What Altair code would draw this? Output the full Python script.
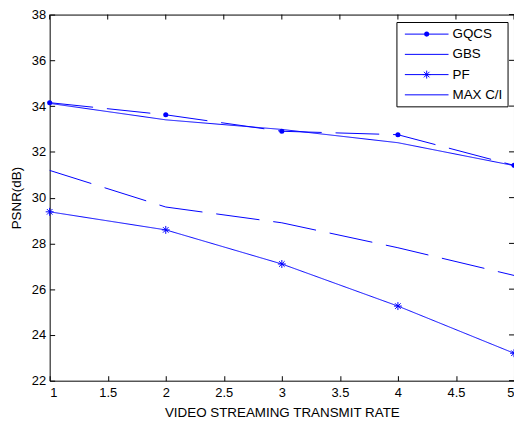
import altair as alt
import pandas as pd

rates = [1, 2, 3, 4, 5]
series = ["GQCS", "GBS", "PF", "MAX C/I"]
gqcs = [34.15, 33.62, 32.9, 32.75, 31.41]
gbs = [34.12, 33.4, 32.98, 32.4, 31.4]
pf = [29.38, 28.59, 27.1, 25.26, 23.2]
maxci = [31.19, 29.59, 28.9, 27.81, 26.6]

x_ticks = [1, 1.5, 2, 2.5, 3, 3.5, 4, 4.5, 5]
y_ticks = [22, 24, 26, 28, 30, 32, 34, 36, 38]

rows = []
for name, vals in zip(series, [gqcs, gbs, pf, maxci]):
    for r, v in zip(rates, vals):
        rows.append({"rate": r, "psnr": v, "series": name})
df = pd.DataFrame(rows)
legend_df = pd.DataFrame({"series": series, "row": list(range(len(series)))})
xt_df = pd.DataFrame({"rate": x_ticks})
yt_df = pd.DataFrame({"psnr": y_ticks})

BLUE = "#0000ff"
FONT = "Liberation Sans"
W, H = 468, 369

xs = alt.Scale(domain=[1, 5], nice=False, zero=False)
ys = alt.Scale(domain=[22, 38], nice=False, zero=False)

x_axis = alt.Axis(values=x_ticks, format="~g", domain=False, grid=False, offset=-5,
                  tickSize=5, tickColor="#000", tickOpacity=1, labelPadding=6, labelFontSize=13,
                  labelFont=FONT, labelColor="#000", title="VIDEO STREAMING TRANSMIT RATE",
                  titleFont=FONT, titleFontSize=13.5, titleFontWeight="normal",
                  titleColor="#000", titlePadding=6)
y_axis = alt.Axis(values=y_ticks, domain=False, grid=False, offset=-5,
                  tickSize=5, tickColor="#000", tickOpacity=1, labelPadding=4, labelFontSize=13,
                  labelFont=FONT, labelColor="#000", title="PSNR(dB)",
                  titleFont=FONT, titleFontSize=13.5, titleFontWeight="normal",
                  titleColor="#000", titlePadding=8)

X = alt.X("rate:Q", scale=xs, axis=x_axis)
Y = alt.Y("psnr:Q", scale=ys, axis=y_axis)

base = alt.Chart(df)

lines = base.mark_line(color=BLUE, strokeWidth=1).encode(
    x=X, y=Y,
    strokeDash=alt.StrokeDash("series:N",
                              scale=alt.Scale(domain=series,
                                              range=[[44, 14], [1, 0], [1, 0], [44, 14]]),
                              legend=None),
)

STAR = "M0,-1V1M-1,0H1M-0.7,-0.7L0.7,0.7M-0.7,0.7L0.7,-0.7"

dots = base.transform_filter(alt.datum.series == "GQCS").mark_point(
    shape="circle", filled=True, size=26, color=BLUE, opacity=1
).encode(x=X, y=Y)

stars = base.transform_filter(alt.datum.series == "PF").mark_point(
    shape=STAR, filled=False, size=64, color=BLUE, strokeWidth=1, opacity=1
).encode(x=X, y=Y)

# inward ticks on the top and right edges
top_ticks = alt.Chart(xt_df).mark_rule(color="#000", strokeWidth=1).encode(
    x=X, y=alt.value(0), y2=alt.value(5))
right_ticks = alt.Chart(yt_df).mark_rule(color="#000", strokeWidth=1).encode(
    y=Y, x=alt.value(W - 5), x2=alt.value(W))

# legend (rows placed in data units of the y scale)
leg = alt.Chart(legend_df).transform_calculate(
    psnr="38 - (19.7 + 20.4 * datum.row) * 16 / 369")
leg_box = leg.transform_filter("datum.row == 0").mark_rect(
    fill="#fff", stroke="#000", strokeWidth=1
).encode(x=alt.value(350), x2=alt.value(462), y=alt.value(8), y2=alt.value(93))
leg_lines = leg.mark_rule(color=BLUE, strokeWidth=1).encode(
    x=alt.value(358), x2=alt.value(402), y=Y)
leg_dot = leg.transform_filter("datum.series == 'GQCS'").mark_point(
    shape="circle", filled=True, size=26, color=BLUE, opacity=1
).encode(x=alt.value(380), y=Y)
leg_star = leg.transform_filter("datum.series == 'PF'").mark_point(
    shape=STAR, filled=False, size=64, color=BLUE, strokeWidth=1, opacity=1
).encode(x=alt.value(380), y=Y)
leg_text = leg.mark_text(align="left", baseline="middle", font=FONT, fontSize=13.5,
                         color="#000").encode(x=alt.value(406), y=Y, text="series:N")

chart = alt.layer(lines, dots, stars, top_ticks, right_ticks,
                  leg_box, leg_lines, leg_dot, leg_star, leg_text).properties(
    width=W, height=H, autosize=alt.AutoSizeParams(type="none"),
    padding={"left": 42, "top": 5, "right": 0, "bottom": 38},
    background="#fff",
).configure_view(stroke="#000", strokeWidth=1)

chart.save("out.html", embed_options={"renderer": "svg", "actions": False})
